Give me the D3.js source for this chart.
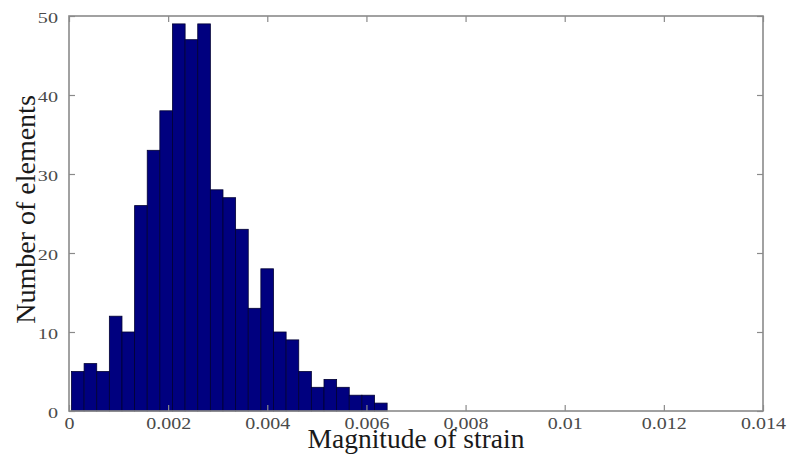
<!DOCTYPE html>
<html>
<head>
<meta charset="utf-8">
<script src="https://cdn.jsdelivr.net/npm/d3@7"></script>
<style>
  html, body { margin: 0; padding: 0; background: #fff; }
  svg { display: block; }
</style>
</head>
<body>
<svg id="chart" width="789" height="464"></svg>
<script>
// ---- data ----
const binStart = 0.00005;       // left edge of first bin
const binWidth = 0.0002547;     // width of each bin
const counts = [5, 6, 5, 12, 10, 26, 33, 38, 49, 47, 49, 28, 27, 23, 13, 18, 10, 9, 5, 3, 4, 3, 2, 2, 1];
const xTicks = [0, 0.002, 0.004, 0.006, 0.008, 0.01, 0.012, 0.014];
const xTickLabels = ["0", "0.002", "0.004", "0.006", "0.008", "0.01", "0.012", "0.014"];
const yTicks = [0, 10, 20, 30, 40, 50];
const yTickLabels = ["0", "10", "20", "30", "40", "50"];
const xTitle = "Magnitude of strain";
const yTitle = "Number of elements";

const bins = counts.map((c, i) => ({ x0: binStart + i * binWidth, x1: binStart + (i + 1) * binWidth, n: c }));

// ---- layout ----
const L = 69, R = 763, T = 16, B = 411;
const svg = d3.select("#chart");
const x = d3.scaleLinear().domain([0, 0.014]).range([L, R]);
const y = d3.scaleLinear().domain([0, 50]).range([B, T]);

const axisColor = "#8a8a8a";
const labelColor = "#4a4a4a";
const font = "'Liberation Serif', 'Times New Roman', serif";

// bars
svg.append("g").selectAll("rect").data(bins).join("rect")
  .attr("x", d => x(d.x0))
  .attr("y", d => y(d.n))
  .attr("width", d => x(d.x1) - x(d.x0))
  .attr("height", d => y(0) - y(d.n))
  .attr("fill", "#00007f")
  .attr("stroke", "#000033")
  .attr("stroke-width", 0.8);

// axes (ticks inward, MATLAB style)
function styleAxis(g) {
  g.select(".domain").remove();
  g.selectAll(".tick line").attr("stroke", axisColor).attr("stroke-width", 1.2);
  g.selectAll(".tick text").attr("fill", labelColor).attr("font-family", font);
}

const xb = svg.append("g").attr("transform", `translate(0,${B})`)
  .call(d3.axisBottom(x).tickValues(xTicks).tickSizeInner(-6).tickSizeOuter(0).tickPadding(0)
    .tickFormat((d, i) => xTickLabels[i]));
styleAxis(xb);
xb.selectAll(".tick text")
  .attr("font-size", 16)
  .attr("y", 18).attr("dy", 0)
  .attr("transform", "scale(1.25,1)");

const xt = svg.append("g").attr("transform", `translate(0,${T})`)
  .call(d3.axisTop(x).tickValues(xTicks).tickSizeInner(-6).tickSizeOuter(0).tickFormat(""));
styleAxis(xt);

const yl = svg.append("g").attr("transform", `translate(${L},0)`)
  .call(d3.axisLeft(y).tickValues(yTicks).tickSizeInner(-6).tickSizeOuter(0).tickPadding(8.5)
    .tickFormat((d, i) => yTickLabels[i]));
styleAxis(yl);
yl.selectAll(".tick text").attr("font-size", 15.5).attr("dy", "0.4em")
  .attr("transform", "scale(1.3,1)");

const yr = svg.append("g").attr("transform", `translate(${R},0)`)
  .call(d3.axisRight(y).tickValues(yTicks).tickSizeInner(-6).tickSizeOuter(0).tickFormat(""));
styleAxis(yr);

// box
svg.append("rect")
  .attr("x", L).attr("y", T).attr("width", R - L).attr("height", B - T)
  .attr("fill", "none").attr("stroke", axisColor).attr("stroke-width", 1.6);

// titles
svg.append("text")
  .attr("x", (L + R) / 2).attr("y", 448)
  .attr("text-anchor", "middle")
  .attr("font-family", font).attr("font-size", 27.5)
  .attr("fill", "#1a1a1a")
  .text(xTitle);

svg.append("text")
  .attr("transform", `translate(35,${(T + B) / 2 - 4}) rotate(-90)`)
  .attr("text-anchor", "middle")
  .attr("font-family", font).attr("font-size", 28)
  .attr("fill", "#1a1a1a")
  .text(yTitle);
</script>
</body>
</html>
